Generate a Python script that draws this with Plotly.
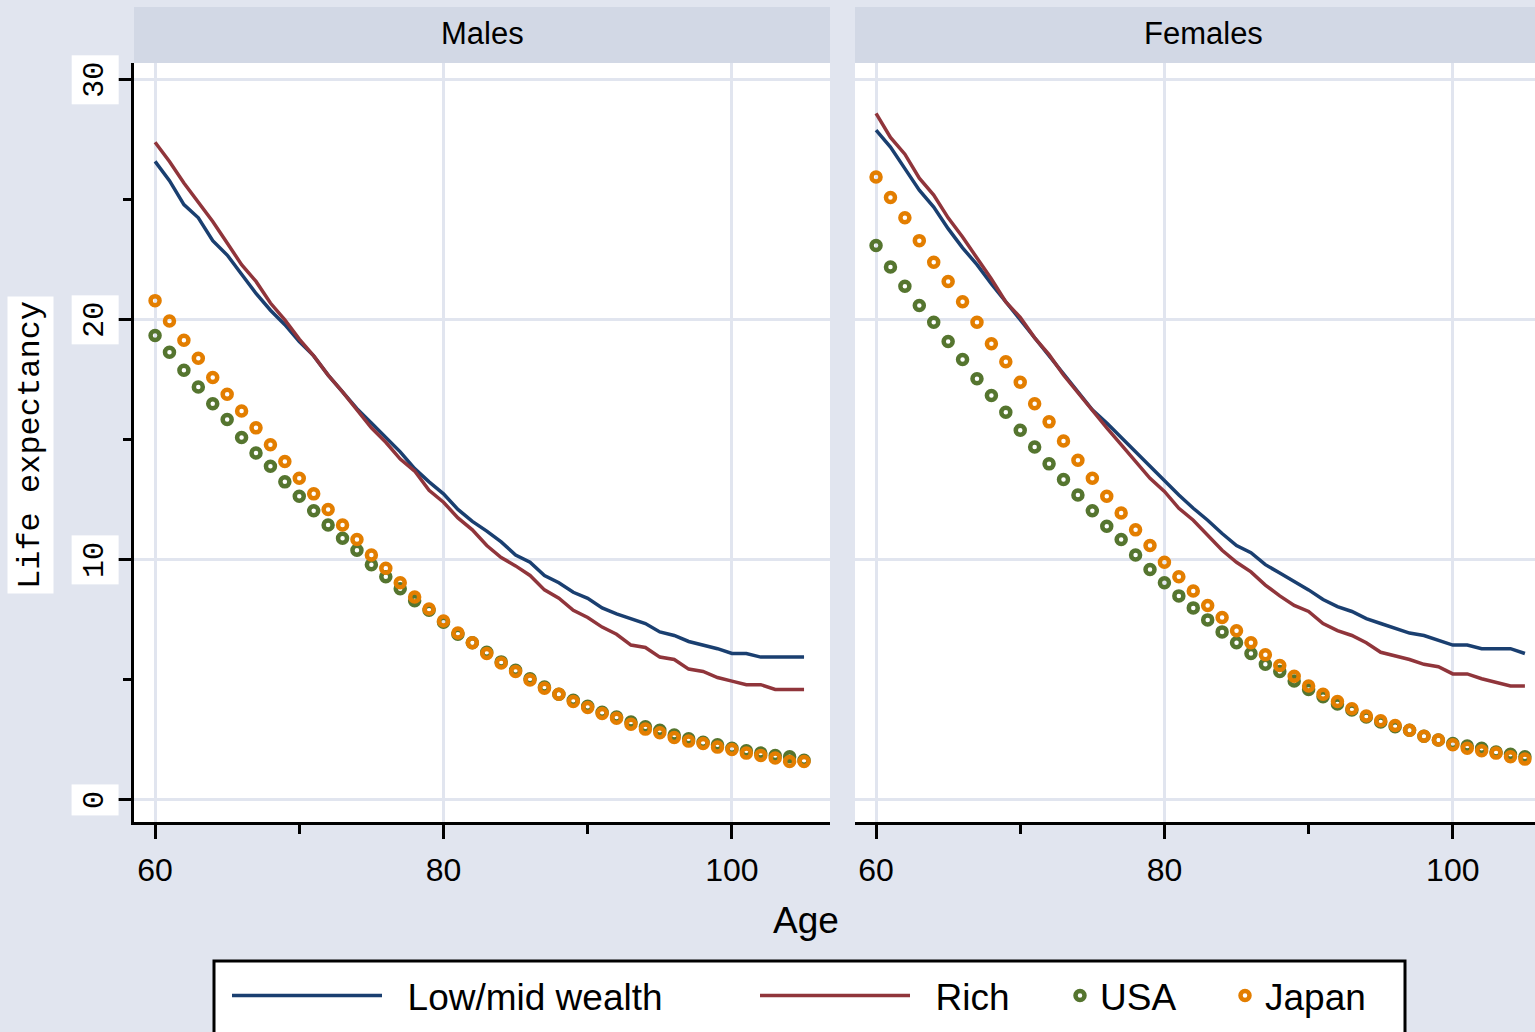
import plotly.graph_objects as go
from plotly.subplots import make_subplots

ages = list(range(60, 106))

male_lowmid = [26.6, 25.8, 24.8, 24.25, 23.3, 22.7, 21.9, 21.1, 20.4, 19.8,
               19.1, 18.5, 17.7, 17.0, 16.3, 15.7, 15.1, 14.5, 13.8, 13.25,
               12.75, 12.1, 11.6, 11.2, 10.75, 10.2, 9.9, 9.35, 9.05, 8.65,
               8.4, 8.0, 7.75, 7.55, 7.35, 7.0, 6.85, 6.6, 6.45, 6.3,
               6.1, 6.1, 5.95, 5.95, 5.95, 5.95]
male_rich = [27.4, 26.6, 25.7, 24.9, 24.1, 23.2, 22.3, 21.6, 20.7, 20.0,
             19.2, 18.5, 17.7, 17.0, 16.25, 15.5, 14.9, 14.2, 13.7, 12.9,
             12.4, 11.75, 11.25, 10.6, 10.1, 9.75, 9.35, 8.75, 8.4, 7.9,
             7.6, 7.2, 6.9, 6.45, 6.35, 5.95, 5.85, 5.45, 5.35, 5.1,
             4.95, 4.8, 4.8, 4.6, 4.6, 4.6]
male_usa = [19.35, 18.65, 17.9, 17.2, 16.5, 15.85, 15.1, 14.45, 13.9, 13.25,
            12.65, 12.05, 11.45, 10.9, 10.4, 9.8, 9.3, 8.8, 8.3, 7.9,
            7.4, 6.9, 6.55, 6.15, 5.75, 5.4, 5.05, 4.7, 4.4, 4.15,
            3.9, 3.65, 3.45, 3.25, 3.05, 2.9, 2.7, 2.55, 2.4, 2.3,
            2.15, 2.05, 1.95, 1.85, 1.8, 1.65]
male_japan = [20.8, 19.95, 19.15, 18.4, 17.6, 16.9, 16.2, 15.5, 14.8, 14.1,
              13.4, 12.75, 12.1, 11.45, 10.85, 10.2, 9.65, 9.05, 8.45, 7.95,
              7.45, 6.95, 6.55, 6.1, 5.7, 5.35, 5.0, 4.65, 4.4, 4.1,
              3.85, 3.6, 3.4, 3.15, 2.95, 2.8, 2.6, 2.45, 2.35, 2.2,
              2.1, 1.95, 1.85, 1.75, 1.6, 1.6]

female_lowmid = [27.9, 27.2, 26.3, 25.4, 24.7, 23.8, 23.0, 22.3, 21.5, 20.75,
                 20.0, 19.25, 18.45, 17.7, 17.0, 16.25, 15.7, 15.1, 14.5, 13.95,
                 13.3, 12.7, 12.15, 11.65, 11.1, 10.6, 10.3, 9.8, 9.45, 9.1,
                 8.75, 8.35, 8.05, 7.85, 7.55, 7.35, 7.15, 6.95, 6.85, 6.65,
                 6.45, 6.45, 6.3, 6.3, 6.3, 6.1]
female_rich = [28.6, 27.6, 26.9, 25.9, 25.2, 24.25, 23.45, 22.6, 21.7, 20.75,
               20.1, 19.25, 18.55, 17.7, 16.95, 16.2, 15.5, 14.8, 14.1, 13.4,
               12.85, 12.15, 11.65, 11.05, 10.4, 9.9, 9.5, 8.95, 8.5, 8.1,
               7.85, 7.35, 7.05, 6.85, 6.55, 6.15, 6.0, 5.85, 5.65, 5.55,
               5.25, 5.25, 5.05, 4.9, 4.75, 4.75]
female_usa = [23.1, 22.2, 21.4, 20.6, 19.9, 19.1, 18.35, 17.55, 16.85, 16.15,
              15.4, 14.7, 14.0, 13.35, 12.7, 12.05, 11.4, 10.85, 10.2, 9.6,
              9.05, 8.5, 8.0, 7.5, 7.0, 6.55, 6.1, 5.65, 5.35, 4.95,
              4.6, 4.3, 4.0, 3.75, 3.45, 3.25, 3.05, 2.9, 2.65, 2.5,
              2.35, 2.25, 2.15, 2.0, 1.9, 1.8]
female_japan = [25.95, 25.1, 24.25, 23.3, 22.4, 21.6, 20.75, 19.9, 19.0, 18.25,
                17.4, 16.5, 15.75, 14.95, 14.15, 13.4, 12.65, 11.95, 11.25, 10.6,
                9.9, 9.3, 8.7, 8.1, 7.6, 7.05, 6.55, 6.05, 5.6, 5.15,
                4.75, 4.4, 4.1, 3.8, 3.5, 3.3, 3.1, 2.9, 2.65, 2.5,
                2.3, 2.15, 2.05, 1.95, 1.8, 1.7]

panel_titles = ["Males", "Females"]
x_ticks = [60, 80, 100]
y_ticks = [0, 10, 20, 30]

BG = "#e1e5ef"
STRIP = "#d2d8e5"
GRID = "#e1e5ef"
NAVY = "#1a3f70"
MAROON = "#90353b"
GREEN = "#55752f"
ORANGE = "#e37e00"

W, H = 1535, 1032
L, R, T, B = 134, 0, 63, 210
PW = W - L - R
PH = H - T - B

def px_x(p):
    return (p - L) / PW

def px_y(p):
    return (H - B - p) / PH

fig = make_subplots(rows=1, cols=2, horizontal_spacing=0)

NB = "\u00a0"
series = [
    (NB * 2 + "Low/mid wealth", male_lowmid, female_lowmid, NAVY, "line", "legend"),
    (NB * 2 + "Rich", male_rich, female_rich, MAROON, "line", "legend"),
    ("USA", male_usa, female_usa, GREEN, "marker", "legend2"),
    ("Japan", male_japan, female_japan, ORANGE, "marker", "legend2"),
]

for name, mvals, fvals, color, kind, leg in series:
    for col, vals in ((1, mvals), (2, fvals)):
        if kind == "line":
            tr = go.Scatter(x=ages, y=vals, mode="lines", name=name,
                            line=dict(color=color, width=3.5),
                            legend=leg, showlegend=(col == 1))
        else:
            tr = go.Scatter(x=ages, y=vals, mode="markers", name=name,
                            marker=dict(symbol="circle-open", size=9, color=color,
                                        line=dict(width=4.5, color=color)),
                            legend=leg, showlegend=(col == 1))
        fig.add_trace(tr, row=1, col=col)

d1 = [0, px_x(830)]
d2 = [px_x(855), 1]

axis_common = dict(showgrid=True, gridcolor=GRID, gridwidth=3, zeroline=False)

xaxis_common = dict(tickvals=x_ticks, ticks="outside", ticklen=14, tickwidth=3,
                    tickcolor="black", showline=True, linecolor="black", linewidth=3,
                    ticklabelstandoff=4,
                    minor=dict(dtick=10, tick0=0, ticks="outside", ticklen=9,
                               tickwidth=3, tickcolor="black", showgrid=False),
                    tickfont=dict(family="Liberation Sans", size=32, color="black"))

fig.update_layout(
    xaxis=dict(domain=d1, range=[58.54, 106.8], **xaxis_common, **axis_common),
    xaxis2=dict(domain=d2, range=[58.54, 105.7], **xaxis_common, **axis_common),
    yaxis=dict(range=[-0.92, 30.7], tickvals=y_ticks, showticklabels=False,
               ticks="outside", ticklen=15, tickwidth=3, tickcolor="black",
               showline=True, linecolor="black", linewidth=3,
               minor=dict(dtick=5, tick0=0, ticks="outside", ticklen=8,
                          tickwidth=3, tickcolor="black", showgrid=False),
               **axis_common),
    yaxis2=dict(range=[-0.92, 30.7], tickvals=y_ticks, showticklabels=False,
                ticks="", showline=False, **axis_common),
)

shapes = []
annotations = []
strip_top = px_y(7)
title_centers = [482, 1203]
for dom, title, cx in ((d1, panel_titles[0], title_centers[0]),
                       (d2, panel_titles[1], title_centers[1])):
    shapes.append(dict(type="rect", xref="paper", yref="paper", x0=dom[0], x1=dom[1],
                       y0=1, y1=strip_top, fillcolor=STRIP, line=dict(width=0),
                       layer="below"))
    annotations.append(dict(xref="paper", yref="paper", x=px_x(cx),
                            y=px_y(33), text=title, showarrow=False,
                            xanchor="center", yanchor="middle",
                            font=dict(family="Liberation Sans", size=31, color="black")))

for v in y_ticks:
    annotations.append(dict(xref="paper", yref="y", x=px_x(95), y=v, text=str(v),
                            textangle=-90, showarrow=False, xanchor="center",
                            yanchor="middle", bgcolor="white", borderpad=6,
                            font=dict(family="Liberation Mono", size=30, color="black")))

annotations.append(dict(xref="paper", yref="paper", x=px_x(30), y=px_y(445),
                        text="Life expectancy", textangle=-90, showarrow=False,
                        xanchor="center", yanchor="middle", bgcolor="white",
                        borderpad=4,
                        font=dict(family="Liberation Mono", size=32, color="black")))
annotations.append(dict(xref="paper", yref="paper", x=px_x(806), y=px_y(921),
                        text="Age", showarrow=False, xanchor="center", yanchor="middle",
                        font=dict(family="Liberation Sans", size=37, color="black")))

shapes.append(dict(type="rect", xref="paper", yref="paper", x0=px_x(214), x1=px_x(1405),
                   y0=px_y(961), y1=px_y(1050), fillcolor="white",
                   line=dict(color="black", width=3), layer="below"))

fig.update_layout(
    width=W, height=H,
    margin=dict(l=L, r=R, t=T, b=B),
    paper_bgcolor=BG, plot_bgcolor="white",
    shapes=shapes, annotations=annotations,
    legend=dict(orientation="h", x=px_x(227), y=px_y(965), xanchor="left",
                yanchor="top", bgcolor="rgba(0,0,0,0)", itemwidth=150,
                entrywidth=363, entrywidthmode="pixels",
                font=dict(family="Liberation Sans", size=37, color="black")),
    legend2=dict(orientation="h", x=px_x(1060), y=px_y(965), xanchor="left",
                 yanchor="top", bgcolor="rgba(0,0,0,0)",
                 entrywidth=120, entrywidthmode="pixels",
                 font=dict(family="Liberation Sans", size=37, color="black")),
)

fig.write_html("out.html", config={"displayModeBar": False},
               post_script="document.body.style.margin='0';"
                           "document.body.style.background='" + BG + "';")
